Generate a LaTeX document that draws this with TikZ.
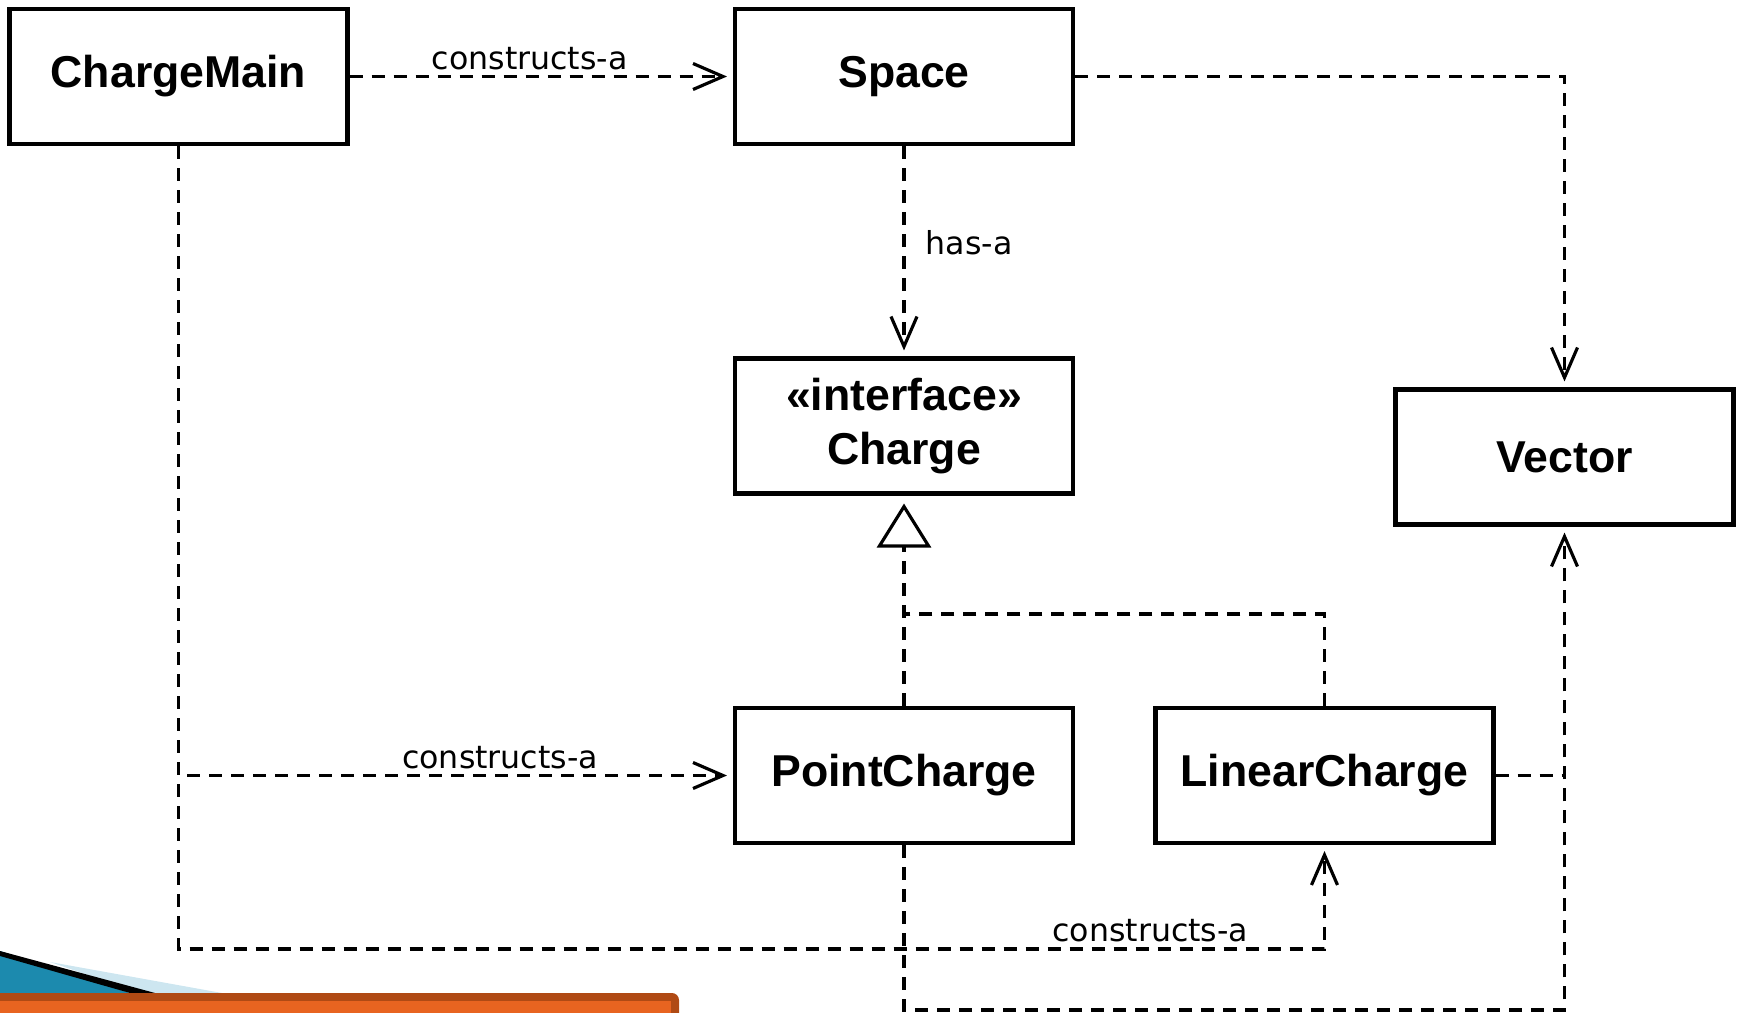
\documentclass[tikz,border=0pt]{standalone}
\usepackage{fontspec}
\setmainfont{Liberation Sans}
\newfontfamily\labelfont{DejaVu Sans}
\usetikzlibrary{positioning,arrows.meta,calc}

\definecolor{barorange}{RGB}{232,100,32}
\definecolor{barrim}{RGB}{176,74,20}
\definecolor{swooshblue}{RGB}{28,138,174}
\definecolor{swooshlight}{RGB}{205,230,240}

\begin{document}
\begin{tikzpicture}[
	class/.style = {draw, line width=1.15pt, minimum width=3.38cm, minimum height=1.35cm,
		inner sep=0pt, align=center, font=\fontsize{12.7}{15.5}\selectfont\bfseries},
	dep/.style = {dash pattern=on 1.3mm off 0.9mm, line width=0.9pt},
	uses/.style = {dep, -{Straight Barb[length=3mm, width=2.6mm, line width=0.9pt]}, shorten >=0.6mm},
	realizes/.style = {dep, -{Triangle[open, length=4.4mm, width=5.4mm, line width=0.9pt]}, shorten >=0.8mm},
	lbl/.style = {font=\labelfont\fontsize{9}{11}\selectfont, inner sep=1.5pt}
]

\useasboundingbox (0, 0) rectangle (17.4, -10.13);

% slide decoration
\begin{scope}
\clip (0, 0) rectangle (17.4, -10.13);
\fill[swooshlight] (0.5, -9.62) -- (2.22, -9.93) -- (1.4, -9.93) -- cycle;
\fill[swooshblue] (0, -9.51) -- (1.3, -9.93) -- (0, -9.93) -- cycle;
\fill[black] (0, -9.51) -- (1.55, -9.93) -- (1.3, -9.93) -- (0, -9.56) -- cycle;
\fill[barrim, rounded corners=2pt] (-0.2, -9.93) rectangle (6.79, -10.5);
\fill[barorange] (-0.2, -10.01) rectangle (6.71, -10.5);
\draw[barrim, line width=0.4pt] (-0.2, -10.0) -- (6.72, -10.0) -- (6.72, -10.5);
\end{scope}

% classes
\node[class] (main) at (1.785, -0.765) {ChargeMain};
\node[class] (space) at (9.04, -0.765) {Space};
\node[class] (charge) at (9.04, -4.26) {«interface»\\Charge};
\node[class] (vector) at (15.645, -4.57) {Vector};
\node[class] (point) at (9.04, -7.755) {PointCharge};
\node[class] (linear) at (13.245, -7.755) {LinearCharge};

\coordinate (merge) at (9.04, -6.14);
\coordinate (mainlow) at (1.785, -9.49);
\coordinate (pointlow) at (9.04, -10.10);

% dependencies
\draw[uses] (main) -- node[lbl, above, pos=0.47] {constructs-a} (space);
\draw[uses] (space.east) -| (vector.north);
\draw[uses] (space) -- node[lbl, right=0.15cm, pos=0.46] {has-a} (charge);
\draw[uses] (main.south) |- node[lbl, above, pos=0.79] {constructs-a} (point.west);
\draw[uses] (main.south) -- (mainlow) -| node[lbl, above, pos=0.424] {constructs-a} (linear.south);
\draw[uses] (point.south) -- (pointlow) -| (vector.south);
\draw[dep] (linear.east) -- (linear.east -| vector.south);

% realizations
\draw[realizes] (point) -- (charge);
\draw[dep] (linear.north) |- (merge);

\end{tikzpicture}
\end{document}
